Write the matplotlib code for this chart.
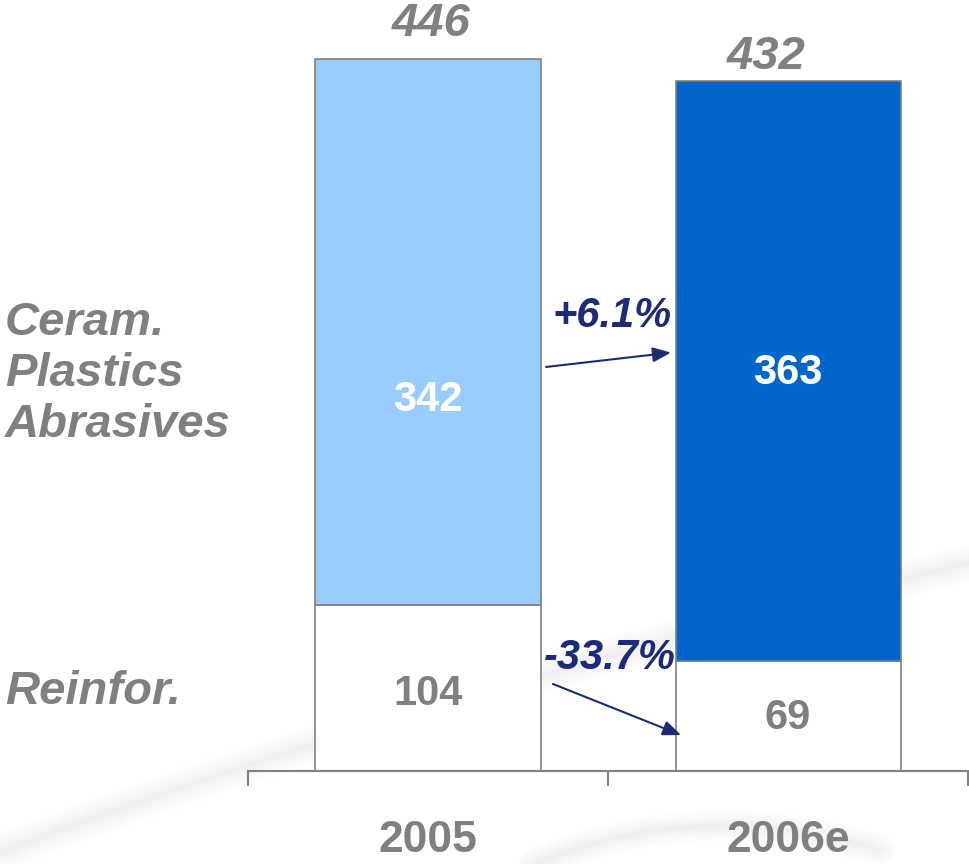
import numpy as np
import matplotlib.pyplot as plt

plt.rcParams['font.family'] = ['Liberation Sans', 'DejaVu Sans']

years = ['2005', '2006e']
reinfor = [104, 69]
ceram = [342, 363]
totals = [446, 432]
growth = ['+6.1%', '-33.7%']

top_colors = ['#99ccff', '#0066cc']
grey = '#808080'
navy = '#1c2a78'

fig = plt.figure(figsize=(9.7, 8.64), dpi=100)

# faint swoosh in the background
bg = fig.add_axes([0, 0, 1, 1], zorder=-1)
bg.set_xlim(0, 970)
bg.set_ylim(864, 0)
bg.axis('off')
t = np.linspace(0, 1, 200)


def bezier(p0, p1, p2):
    p0, p1, p2 = map(np.array, (p0, p1, p2))
    pts = ((1 - t) ** 2)[:, None] * p0 + (2 * (1 - t) * t)[:, None] * p1 + (t ** 2)[:, None] * p2
    return pts[:, 0], pts[:, 1]


for pts, lw_max, a in [(((500, 880), (680, 790), (880, 850)), 22, 0.02),
                       (((-20, 860), (400, 700), (980, 560)), 26, 0.01)]:
    bx, by = bezier(*pts)
    for lw in np.linspace(lw_max, 2, 8):
        bg.plot(bx, by, color='#999999', lw=lw, alpha=a, solid_capstyle='round')

# axes: x from 248px to 968px, baseline at 771px from top
ax = fig.add_axes([248 / 970, (864 - 771) / 864, 720 / 970, 771 / 864])
x = np.arange(len(years))
w = 0.625

ax.bar(x, reinfor, w, color='white', edgecolor=grey, linewidth=1.2, zorder=2)
ax.bar(x, ceram, w, bottom=reinfor, color=top_colors, edgecolor=grey, linewidth=1.2, zorder=2)

ax.set_xlim(-0.5, 1.5)
ax.set_ylim(0, 771 / 1.597)

for s in ['top', 'right', 'left']:
    ax.spines[s].set_visible(False)
ax.spines['bottom'].set_color(grey)
ax.spines['bottom'].set_linewidth(1.5)
ax.set_xticks([-0.5, 0.5, 1.5])
ax.set_xticklabels([])
ax.tick_params(axis='x', direction='out', length=11, width=1.5, color=grey)
ax.set_yticks([])
ax.patch.set_alpha(0)

# year labels under the axis
for i, yr in enumerate(years):
    ax.text(i, -51, yr, ha='center', va='baseline', fontsize=32, fontweight='bold',
            color=grey, clip_on=False)

# totals above bars
total_x = [0.008, 0.939]
total_off = [22, 15]
for i, tot in enumerate(totals):
    ax.text(total_x[i], tot + total_off[i], str(tot), ha='center', va='center', fontsize=34,
            fontweight='bold', fontstyle='italic', color=grey, clip_on=False)

# segment values
ceram_y = [232, 249]
for i, v in enumerate(ceram):
    ax.text(i, ceram_y[i], str(v), ha='center', va='center', fontsize=30,
            fontweight='bold', color='white')
reinfor_y = [48, 33]
for i, v in enumerate(reinfor):
    ax.text(i, reinfor_y[i], str(v), ha='center', va='center', fontsize=30,
            fontweight='bold', color=grey)

# growth arrows between the bars
arrows = [((0.328, 253), (0.675, 262)), ((0.347, 54.5), (0.703, 22.5))]
label_pos = [(0.51, 285), (0.505, 71)]
for (start, end), txt, lp in zip(arrows, growth, label_pos):
    ax.annotate('', xy=end, xytext=start,
                arrowprops=dict(arrowstyle='-|>,head_length=1.1,head_width=0.45',
                                color=navy, lw=1.5, shrinkA=0, shrinkB=0))
    ax.text(lp[0], lp[1], txt, ha='center', va='center', fontsize=30,
            fontweight='bold', fontstyle='italic', color=navy, zorder=3)

# category names on the left
fig.text(5 / 970, 1 - 374 / 864, 'Ceram.\nPlastics\nAbrasives', ha='left', va='center',
         fontsize=34, fontweight='bold', fontstyle='italic', color=grey, linespacing=1.2)
fig.text(5 / 970, 1 - 692 / 864, 'Reinfor.', ha='left', va='center',
         fontsize=34, fontweight='bold', fontstyle='italic', color=grey)

fig.savefig('out.png', dpi=100)
